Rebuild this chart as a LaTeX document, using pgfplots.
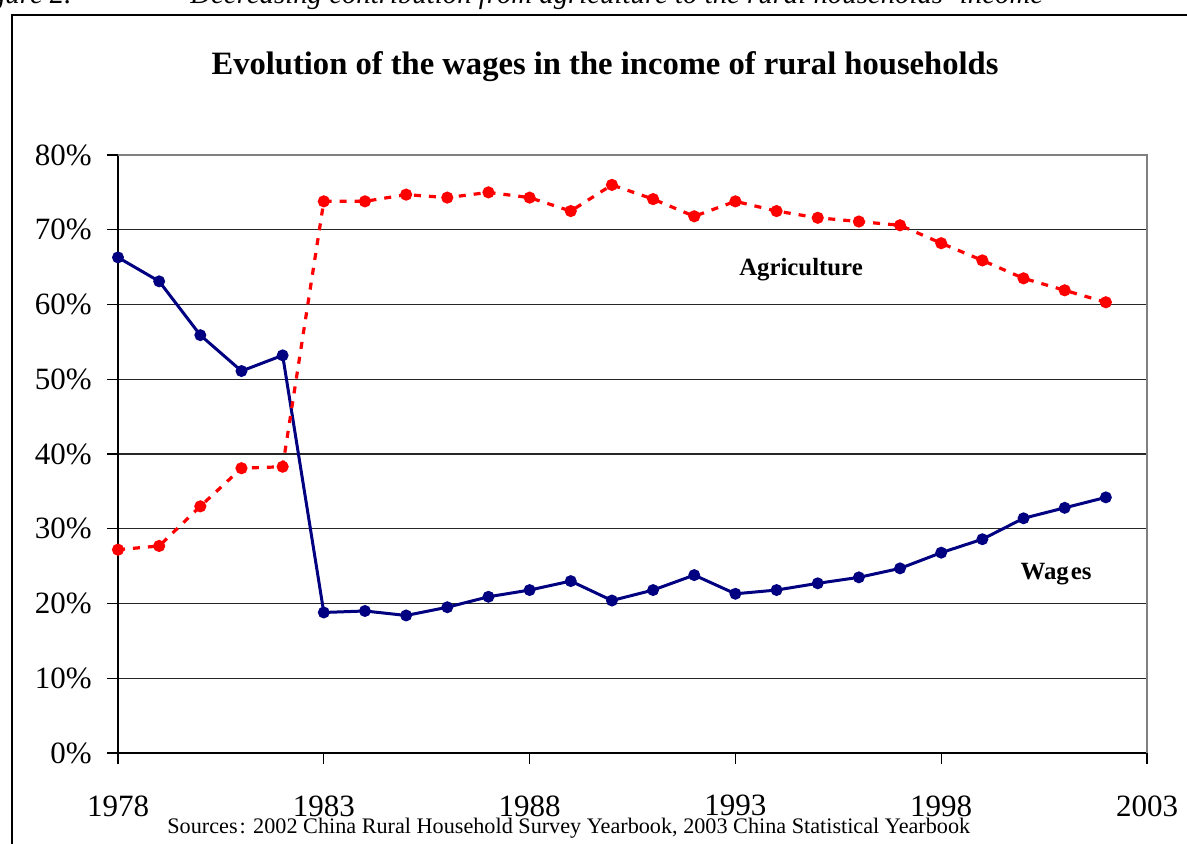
\documentclass[border=0pt]{standalone}
\usepackage{fontspec}
\setmainfont{Liberation Serif}
\usepackage{pgfplots}
\pgfplotsset{compat=1.18}
\definecolor{navyline}{RGB}{0,0,128}
\definecolor{redline}{RGB}{255,0,0}
\definecolor{bordergray}{RGB}{128,128,128}
\begin{document}
\begin{tikzpicture}
\path[use as bounding box, clip] (0pt,0pt) rectangle (593.5pt,421.5pt);
\fill[white] (0pt,0pt) rectangle (593.5pt,421.5pt);
% outer frame
\draw[line width=1.3pt] (6pt,-20pt) -- (6pt,414pt) -- (640pt,414pt);
% caption (cut off at the top)
\node[anchor=base east, inner sep=0pt, font=\fontsize{14.4}{16}\selectfont\itshape] at (36pt,419.5pt) {Figure 2.};
\node[anchor=base west, inner sep=0pt, font=\fontsize{14.4}{16}\selectfont\itshape] at (95pt,419.5pt) {Decreasing contribution from agriculture to the rural households' income};
% title
\node[anchor=base, inner sep=0pt, font=\fontsize{16.3}{19}\selectfont\bfseries] at (302.5pt,384.5pt) {Evolution of the wages in the income of rural households};
\begin{axis}[
  at={(59pt,45pt)}, anchor=south west,
  scale only axis, width=514.5pt, height=299pt,
  xmin=1978, xmax=2003, ymin=0, ymax=80,
  clip=false,
  axis x line*=bottom, axis y line*=left,
  axis line style={black, line width=0.8pt},
  xtick={1978,1983,1988,1993,1998,2003},
  xticklabels={1978,1983,1988,1993,1998,2003},
  ytick={0,10,20,30,40,50,60,70,80},
  yticklabels={0\%,10\%,20\%,30\%,40\%,50\%,60\%,70\%,80\%},
  tick align=outside,
  major tick length=5.5pt,
  tick style={black, line width=0.6pt},
  ymajorgrids,
  grid style={black!85, line width=0.6pt},
  ticklabel style={font=\fontsize{15.5}{18}\selectfont},
  xticklabel style={inner sep=0pt, anchor=north, yshift=-15.5pt},
  yticklabel style={inner sep=0pt, anchor=east, xshift=-7.5pt},
]
\draw[bordergray, line width=1.2pt] (rel axis cs:0,1) -- (rel axis cs:1,1) -- (rel axis cs:1,0);
\addplot[navyline, line width=1.5pt, mark=*, mark size=2.2pt, mark options={solid, fill=navyline, draw=navyline}] coordinates {
(1978,66.3) (1979,63.1) (1980,55.9) (1981,51.1) (1982,53.2)
(1983,18.8) (1984,19.0) (1985,18.4) (1986,19.5) (1987,20.9)
(1988,21.8) (1989,23.0) (1990,20.4) (1991,21.8) (1992,23.8)
(1993,21.3) (1994,21.8) (1995,22.7) (1996,23.5) (1997,24.7)
(1998,26.8) (1999,28.6) (2000,31.4) (2001,32.8) (2002,34.2)
};
\addplot[redline, line width=1.6pt, dash pattern=on 3.5pt off 4pt, mark=*, mark size=2.2pt, mark options={solid, fill=redline, draw=redline}] coordinates {
(1978,27.2) (1979,27.7) (1980,33.0) (1981,38.1) (1982,38.3)
(1983,73.8) (1984,73.8) (1985,74.7) (1986,74.3) (1987,75.0)
(1988,74.3) (1989,72.5) (1990,76.0) (1991,74.1) (1992,71.8)
(1993,73.8) (1994,72.5) (1995,71.6) (1996,71.1) (1997,70.6)
(1998,68.2) (1999,65.9) (2000,63.5) (2001,61.9) (2002,60.3)
};
\end{axis}
% series labels
\node[anchor=base, inner sep=0pt, font=\fontsize{12.4}{14}\selectfont\bfseries] at (400.5pt,284pt) {Agriculture};
\node[anchor=base, inner sep=0pt, font=\fontsize{12.4}{14}\selectfont\bfseries] at (528pt,132pt) {Wag\kern1pt es};
% source
\node[anchor=base west, inner sep=0pt, font=\fontsize{11.1}{13}\selectfont] at (83.5pt,5pt) {Sources\kern1pt: 2002 China Rural Household Survey Yearbook, 2003 China Statistical Yearbook};
\end{tikzpicture}
\end{document}
